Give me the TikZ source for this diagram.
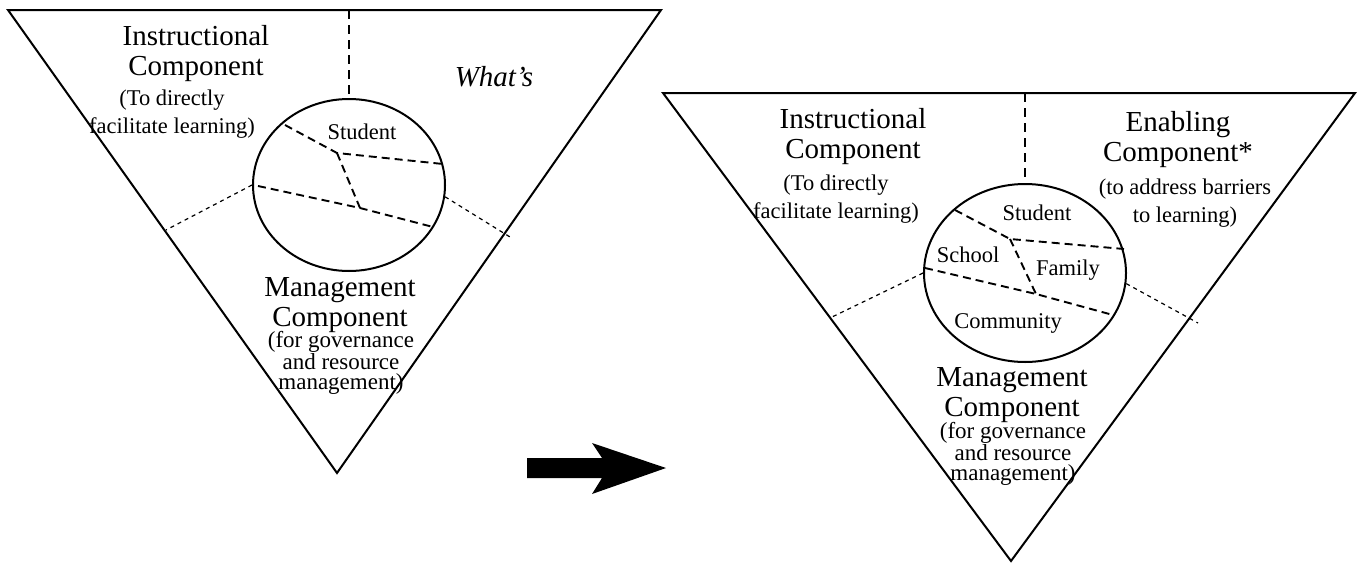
\documentclass[tikz,border=0pt]{standalone}
\usepackage{fontspec}
\setmainfont{Liberation Serif}
\usetikzlibrary{shapes.geometric,positioning,calc}

\begin{document}
\begin{tikzpicture}[x=1pt, y=-1pt,
    frame/.style={draw, line width=2pt, line join=miter},
    hub/.style={ellipse, draw, line width=2pt, inner sep=0pt},
    title/.style={align=center, inner sep=0pt, font=\fontsize{29}{30}\selectfont},
    note/.style={align=center, inner sep=0pt, font=\fontsize{22.5}{28.5}\selectfont},
    tight/.style={align=center, inner sep=0pt, font=\fontsize{23}{19.5}\selectfont},
    part/.style={inner sep=0pt, font=\fontsize{22.5}{24}\selectfont},
    split/.style={draw, line width=1.9pt, dash pattern=on 9pt off 6pt},
    border/.style={draw, line width=1.2pt, dash pattern=on 4pt off 4pt},
    bigarrow/.style={fill=black}]

    \useasboundingbox (0,0) rectangle (1359,562);

    % before
    \coordinate (ltl) at (8,10);
    \coordinate (ltr) at (661,10);
    \coordinate (lbot) at (337,473);
    \draw [frame] (ltl) -- (ltr) -- (lbot) -- cycle;
    \node [hub, minimum width=192pt, minimum height=172pt] (lhub) at (349,185) {};
    \coordinate (ltop) at (lhub.north |- ltl);
    \draw [split] (ltop) -- (lhub.north);

    \coordinate (lup) at (285,125);
    \coordinate (ljoin) at (337,153);
    \coordinate (lupr) at (443,164);
    \coordinate (llow) at (258,186);
    \coordinate (lmid) at (360,208);
    \coordinate (llowr) at (433,227);
    \draw [split, dash pattern=on 8pt off 5pt] (lup) -- (ljoin) -- (lupr);
    \draw [split, dash pattern=on 8pt off 5pt] (ljoin) -- (lmid);
    \draw [split, dash pattern=on 8pt off 5pt] (llow) -- (lmid) -- (llowr);

    \coordinate (lleft) at (166,230);
    \coordinate (lright) at (510,237);
    \draw [border] (lhub.west) -- (lleft);
    \draw [border] (lhub.-7) -- (lright);

    \node [title] (linstr) at (196,54) {Instructional\\Component};
    \node [note] (linstrn) at (172,114) {(To directly\\facilitate learning)};
    \node [title, font=\fontsize{29}{30}\selectfont\itshape] (lwhat) at (494,77) {What’s};
    \node [part] (lstudent) at (362,132) {Student};
    \node [title] (lmgmt) at (340,305) {Management\\Component};
    \node [tight] (lmgmtn) at (341,363) {(for governance\\and resource\\management)};

    % arrow
    \fill [bigarrow] (527,458) -- (602,458) -- (592,443) -- (666,468) -- (592,494) -- (602,478) -- (527,478) -- cycle;

    % after
    \coordinate (rtl) at (663,93);
    \coordinate (rtr) at (1355,93);
    \coordinate (rbot) at (1011,561);
    \draw [frame] (rtl) -- (rtr) -- (rbot) -- cycle;
    \node [hub, minimum width=202pt, minimum height=178pt] (rhub) at (1025,273) {};
    \coordinate (rtop) at (rhub.north |- rtl);
    \draw [split] (rtop) -- (rhub.north);

    \coordinate (rup) at (955,210);
    \coordinate (rjoin) at (1010,239);
    \coordinate (rupr) at (1124,249);
    \coordinate (rlow) at (925,268);
    \coordinate (rmid) at (1036,294);
    \coordinate (rlowr) at (1113,315);
    \draw [split, dash pattern=on 8pt off 5pt] (rup) -- (rjoin) -- (rupr);
    \draw [split, dash pattern=on 8pt off 5pt] (rjoin) -- (rmid);
    \draw [split, dash pattern=on 8pt off 5pt] (rlow) -- (rmid) -- (rlowr);

    \coordinate (rleft) at (832,317);
    \coordinate (rright) at (1198,323);
    \draw [border] (rhub.west) -- (rleft);
    \draw [border] (rhub.-6) -- (rright);

    \node [title] (rinstr) at (853,137) {Instructional\\Component};
    \node [note] (rinstrn) at (836,199) {(To directly\\facilitate learning)};
    \node [title] (renab) at (1178,140) {Enabling\\Component*};
    \node [note] (renabn) at (1185,203) {(to address barriers\\to learning)};
    \node [part] (rstudent) at (1037,213) {Student};
    \node [part] (rschool) at (968,255) {School};
    \node [part] (rfamily) at (1068,270) {Family};
    \node [part] (rcomm) at (1008,323) {Community};
    \node [title] (rmgmt) at (1012,395) {Management\\Component};
    \node [tight] (rmgmtn) at (1013,454) {(for governance\\and resource\\management)};
\end{tikzpicture}
\end{document}
